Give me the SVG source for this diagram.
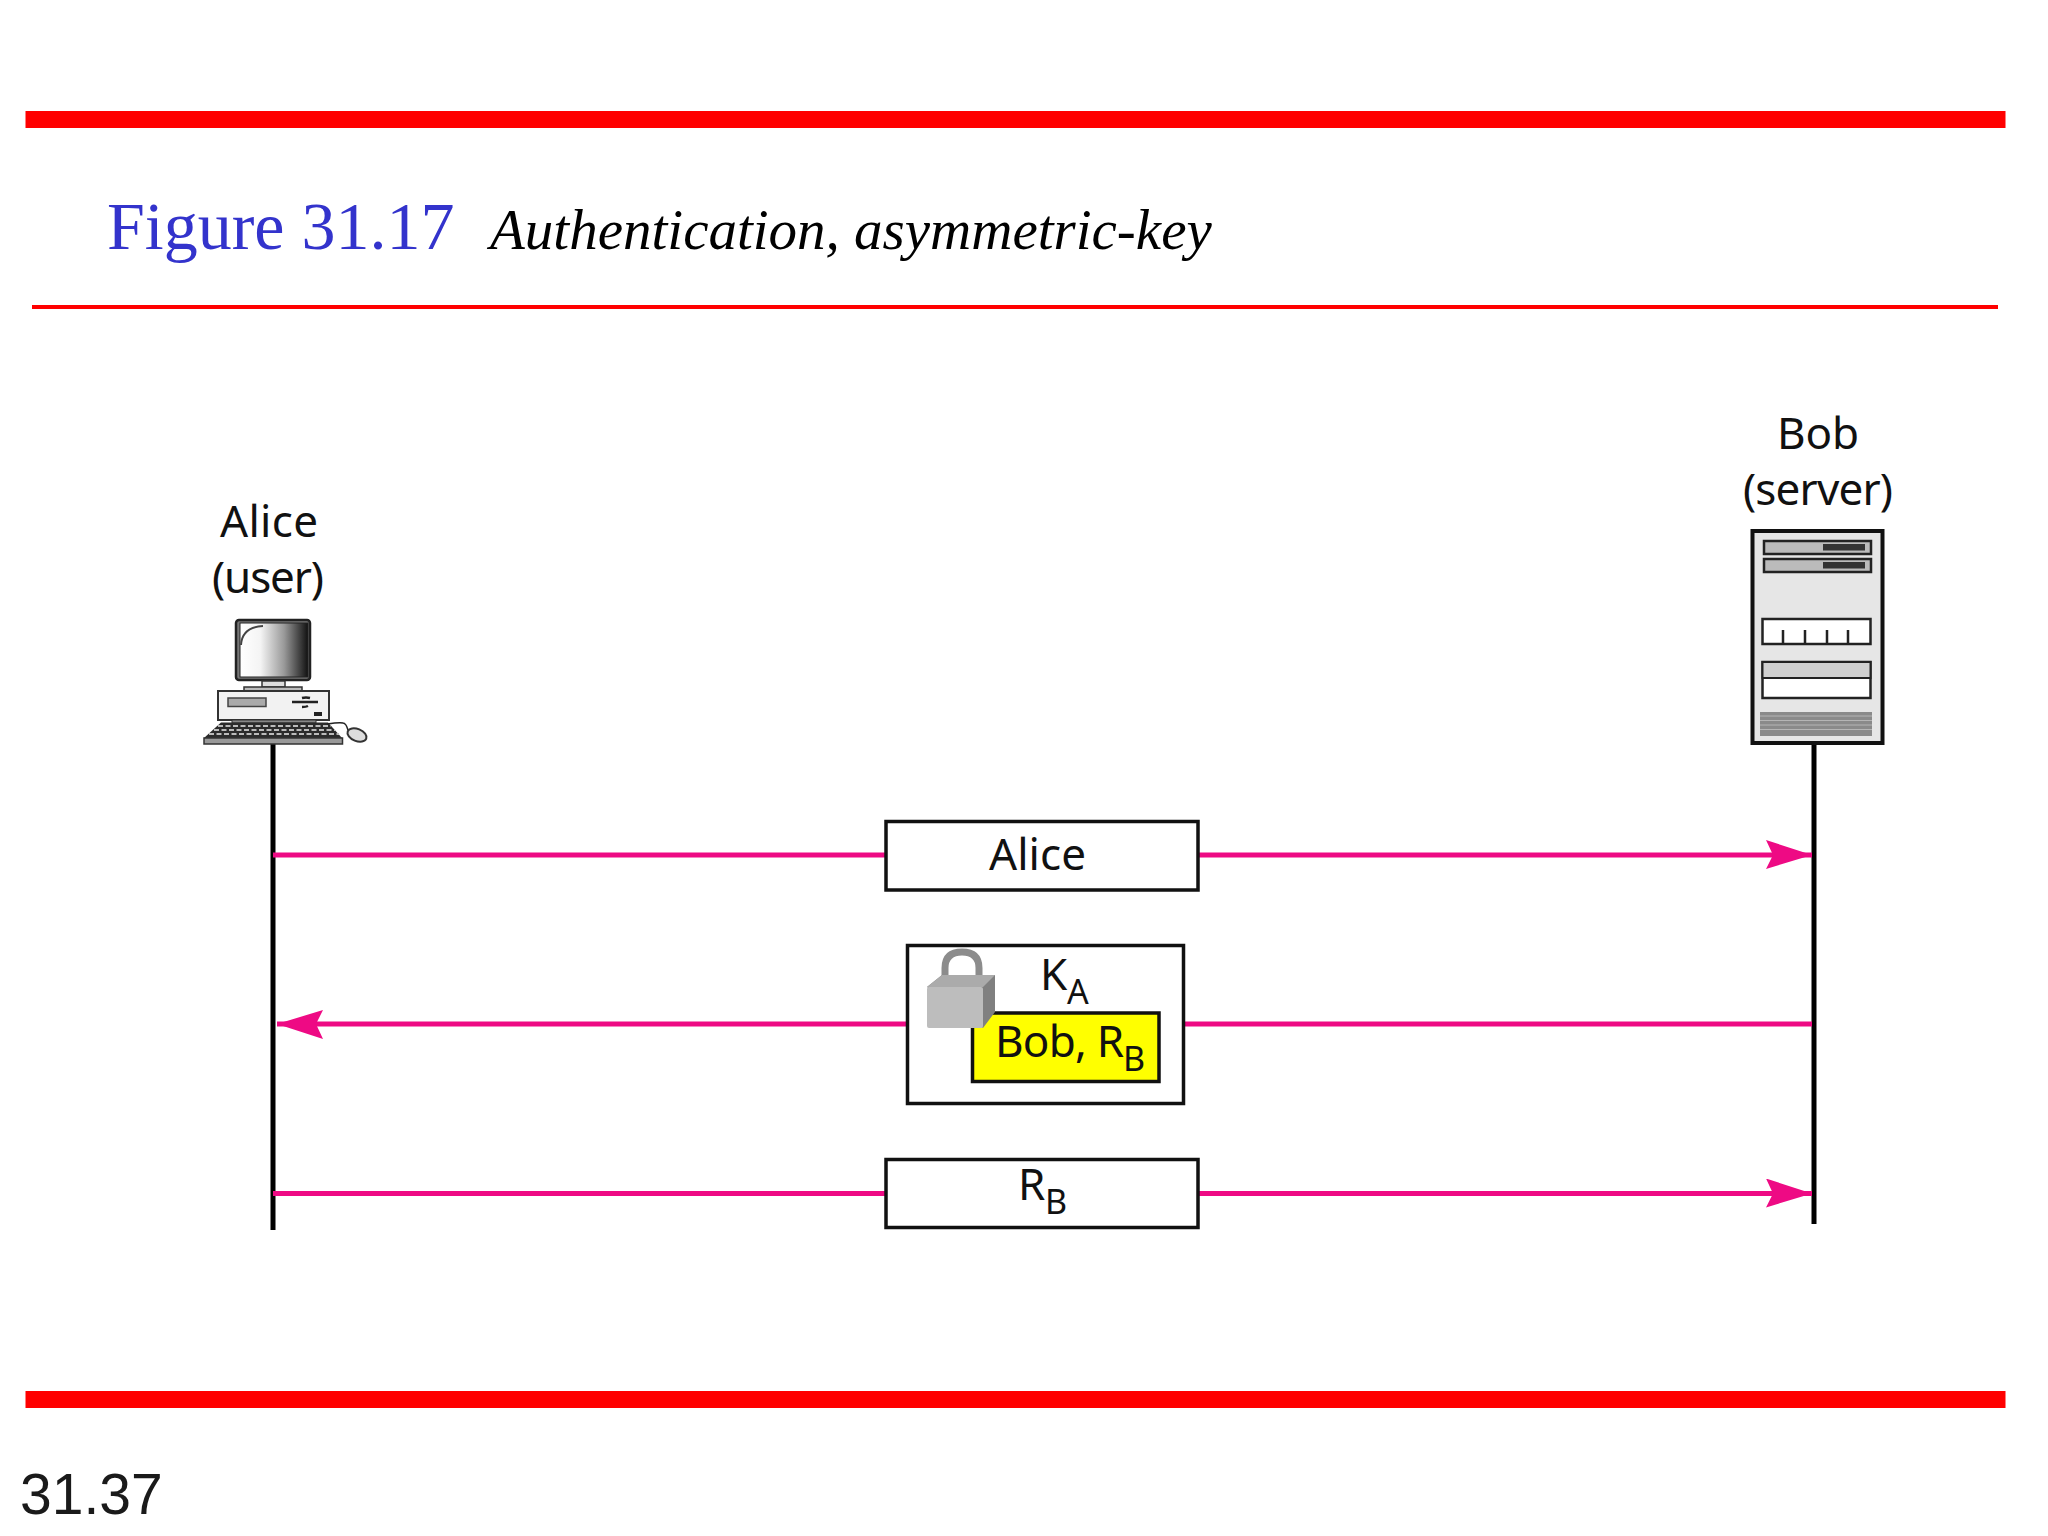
<svg xmlns="http://www.w3.org/2000/svg" width="2048" height="1536" viewBox="0 0 2048 1536">
<style>
.lbl{font-family:"Noto Sans","Open Sans",sans-serif;font-size:44px;fill:#111}
.sub{font-family:"Noto Sans","Open Sans",sans-serif;font-size:34px;fill:#111}
.box{fill:#fff;stroke:#111;stroke-width:3.5}
.msg{stroke:#ee0a84;stroke-width:5;fill:none}
.life{stroke:#000;stroke-width:5;fill:none}
.bar{fill:#f00}
.k{stroke:#222;fill:none}
</style>
<defs>
<marker id="ah" markerUnits="userSpaceOnUse" markerWidth="50" markerHeight="32" refX="46" refY="15" orient="auto">
<path d="M0 0 L46 15 L0 29 L7 15 Z" fill="#ee0a84"/>
</marker>
<linearGradient id="scr" x1="0" x2="1" y1="0" y2="0">
<stop offset="0" stop-color="#fff"/><stop offset=".3" stop-color="#f4f4f4"/><stop offset=".65" stop-color="#999"/><stop offset="1" stop-color="#111"/>
</linearGradient>
</defs>
<rect width="2048" height="1536" fill="#fff"/>
<g id="frame">
<rect class="bar" x="25.5" y="111" width="1980" height="17"/>
<rect class="bar" x="32" y="305" width="1966" height="4"/>
<rect class="bar" x="25.5" y="1391" width="1980" height="17"/>
</g>
<g id="title">
<text x="107" y="249" font-family="Liberation Serif,serif" font-size="68" fill="#3333cc">Figure 31.17</text>
<text x="490" y="249" font-family="Liberation Serif,serif" font-style="italic" font-size="57" fill="#000">Authentication, asymmetric-key</text>
</g>
<text id="page" x="20" y="1514" font-family="Liberation Sans,sans-serif" font-size="57" fill="#1a1a1a">31.37</text>
<g id="connectors">
<line class="life" x1="273" y1="744" x2="273" y2="1230"/>
<line class="life" x1="1814" y1="744" x2="1814" y2="1224"/>
<line class="msg" x1="273" y1="855" x2="886" y2="855"/>
<line class="msg" x1="1198" y1="855" x2="1812" y2="855" marker-end="url(#ah)"/>
<line class="msg" x1="1812" y1="1024" x2="1183" y2="1024"/>
<line class="msg" x1="907" y1="1024" x2="277" y2="1024" marker-end="url(#ah)"/>
<line class="msg" x1="273" y1="1193.500" x2="886" y2="1193.500"/>
<line class="msg" x1="1198" y1="1193.500" x2="1812" y2="1193.500" marker-end="url(#ah)"/>
</g>
<g id="alice">
<text class="lbl" x="269" y="537" text-anchor="middle" textLength="98">Alice</text>
<text class="lbl" x="268" y="593" text-anchor="middle" textLength="112">(user)</text>
<rect x="236" y="620" width="74" height="60" rx="3" fill="#777" stroke="#222" stroke-width="2.5"/>
<rect x="240" y="623" width="68" height="54" fill="url(#scr)" stroke="#222" stroke-width="1"/>
<path d="M241 645 Q242 627 263 626" fill="none" stroke="#444" stroke-width="2"/>
<rect x="262" y="681" width="23" height="6" fill="#ddd" stroke="#333" stroke-width="1.5"/>
<rect x="244" y="687" width="58" height="4" fill="#bbb" stroke="#333" stroke-width="1.5"/>
<rect x="218" y="691" width="111" height="29" fill="#f2f2f2" stroke="#333" stroke-width="2"/>
<rect x="228" y="698" width="38" height="8.5" fill="#aaa" stroke="#444" stroke-width="1.5"/>
<path d="M292 702 H318 M302 698 Q306 697 310 698 M302 707 Q306 707 308 706" stroke="#222" stroke-width="2.5" fill="none"/>
<rect x="314" y="712" width="8" height="4" fill="#222"/>
<rect x="232" y="720" width="84" height="3" fill="#888" stroke="#333" stroke-width="1"/>
<path d="M221 722.5 H328 L342 738 H204 Z" fill="#2b2b2b"/>
<path d="M218 726 H331 M214 730 H335 M209 734 H339" stroke="#bbb" stroke-width="1.8" stroke-dasharray="5 2.500" fill="none"/>
<rect x="204" y="738" width="138.500" height="6" fill="#999" stroke="#333" stroke-width="1.5"/>
<path d="M327 724 Q340 722 343 723 Q346 723 348 730" class="k" stroke-width="1.5"/>
<ellipse cx="357" cy="735" rx="10" ry="6" transform="rotate(22 357 735)" fill="#ddd" stroke="#333" stroke-width="2"/>
</g>
<g id="bob">
<text class="lbl" x="1818" y="449" text-anchor="middle" textLength="82">Bob</text>
<text class="lbl" x="1818" y="505" text-anchor="middle" textLength="150">(server)</text>
<rect x="1752.500" y="531" width="130" height="212" fill="#e6e6e6" stroke="#111" stroke-width="4"/>
<rect x="1764" y="541" width="107" height="13" fill="#bbb" stroke="#222" stroke-width="2.5"/>
<rect x="1823" y="544" width="42" height="6.500" fill="#333"/>
<rect x="1764" y="559" width="107" height="13" fill="#bbb" stroke="#222" stroke-width="2.5"/>
<rect x="1823" y="562" width="42" height="6.500" fill="#333"/>
<rect x="1762.500" y="619" width="108" height="25" fill="#fff" stroke="#222" stroke-width="2.500"/>
<path d="M1783 630 V644 M1805 630 V644 M1827 630 V644 M1848 630 V644" stroke="#222" stroke-width="2.500"/>
<rect x="1762.500" y="662" width="108" height="36" fill="#fff" stroke="#222" stroke-width="2.500"/>
<rect x="1762.500" y="662" width="108" height="16" fill="#d0d0d0" stroke="#222" stroke-width="2"/>
<rect x="1760" y="712" width="112" height="24" fill="#8a8a8a"/>
<path d="M1760 716 H1872 M1760 720.500 H1872 M1760 725 H1872 M1760 729.500 H1872" stroke="#b5b5b5" stroke-width="1"/>
</g>
<g id="msg-alice">
<rect class="box" x="886" y="821.500" width="312" height="68.500"/>
<text class="lbl" x="989" y="870" textLength="97">Alice</text>
</g>
<g id="msg-challenge">
<rect class="box" x="907.500" y="945.500" width="276" height="158"/>
<rect x="972.500" y="1013" width="186.500" height="68.500" fill="#ff0" stroke="#111" stroke-width="3.500"/>
<text class="lbl" x="1040" y="990">K</text>
<text class="sub" x="1067" y="1004">A</text>
<text class="lbl" x="995" y="1057" textLength="129">Bob, R</text>
<text class="sub" x="1123" y="1071">B</text>
<g id="lock">
<path d="M945 985 V968 Q945 952 962 952 Q979 952 979 968 V985" fill="none" stroke="#8c8c8c" stroke-width="7"/>
<path d="M927 987 L942 975 H995 V1012 L983 1028 Z" fill="#808080"/>
<path d="M927 987 L942 975 H995 L983 987 Z" fill="#ababab"/>
<rect x="927" y="987" width="56" height="41" rx="2" fill="#bdbdbd"/>
</g>
</g>
<g id="msg-response">
<rect class="box" x="886" y="1159.500" width="312" height="68"/>
<text class="lbl" x="1018" y="1200">R</text>
<text class="sub" x="1045" y="1214">B</text>
</g>
</svg>
